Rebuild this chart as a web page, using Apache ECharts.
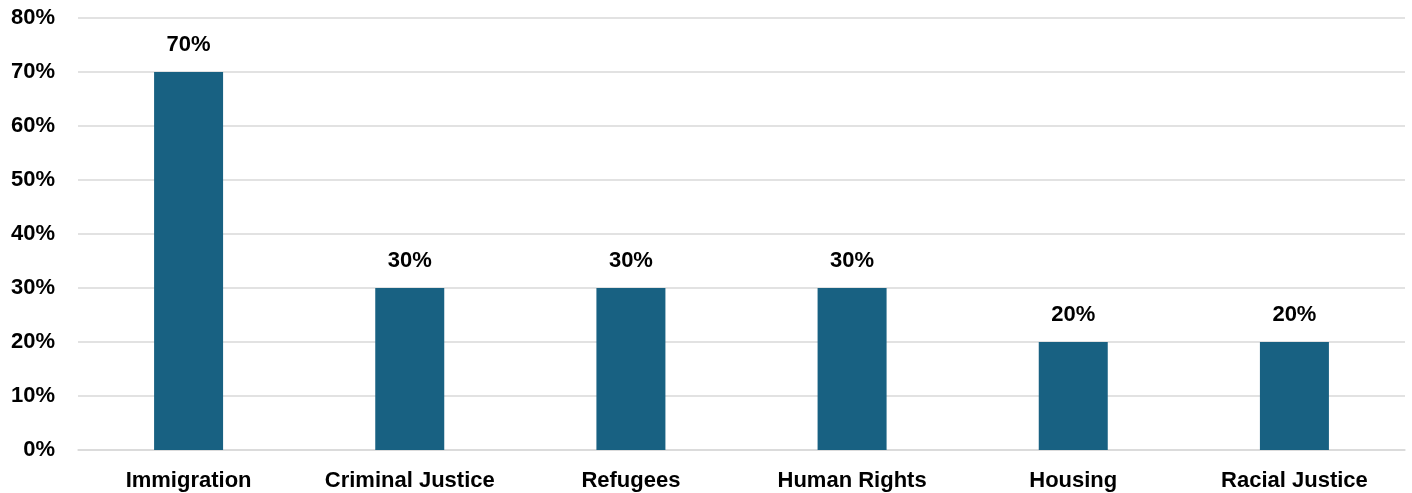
<!DOCTYPE html>
<html><head><meta charset="utf-8">
<script src="https://cdn.jsdelivr.net/npm/echarts@6/dist/echarts.min.js"></script>
<style>html,body{margin:0;padding:0;background:#fff}#c{width:1412px;height:493px}</style>
</head><body><div id="c"></div>
<script>
const categories = ["Immigration","Criminal Justice","Refugees","Human Rights","Housing","Racial Justice"];
const values = [70,30,30,30,20,20];
const yTicks = [0,10,20,30,40,50,60,70,80];

const font = "'Liberation Sans', Arial, sans-serif";
const chart = echarts.init(document.getElementById('c'), null, {renderer:'canvas'});
chart.setOption({
  animation:false,
  grid:{left:78,right:7,top:18,bottom:43,containLabel:false},
  xAxis:{type:'category',data:categories,
    axisLine:{show:true,lineStyle:{color:'#d9d9d9',width:1.5}},
    axisTick:{show:false},
    axisLabel:{color:'#000',fontSize:22,fontWeight:'bold',fontFamily:font,margin:20}},
  yAxis:{type:'value',min:yTicks[0],max:yTicks[yTicks.length-1],interval:10,
    axisLine:{show:false},axisTick:{show:false},
    splitLine:{lineStyle:{color:'#d9d9d9',width:1.5}},
    axisLabel:{color:'#000',fontSize:22,fontWeight:'bold',fontFamily:font,margin:23,formatter:v=>v+'%'}},
  series:[{type:'bar',data:values,barWidth:69,
    itemStyle:{color:'#186182'},
    label:{show:true,position:'top',distance:16,color:'#000',fontSize:22,fontWeight:'bold',fontFamily:font,formatter:p=>p.value+'%'}}]
});
</script></body></html>
